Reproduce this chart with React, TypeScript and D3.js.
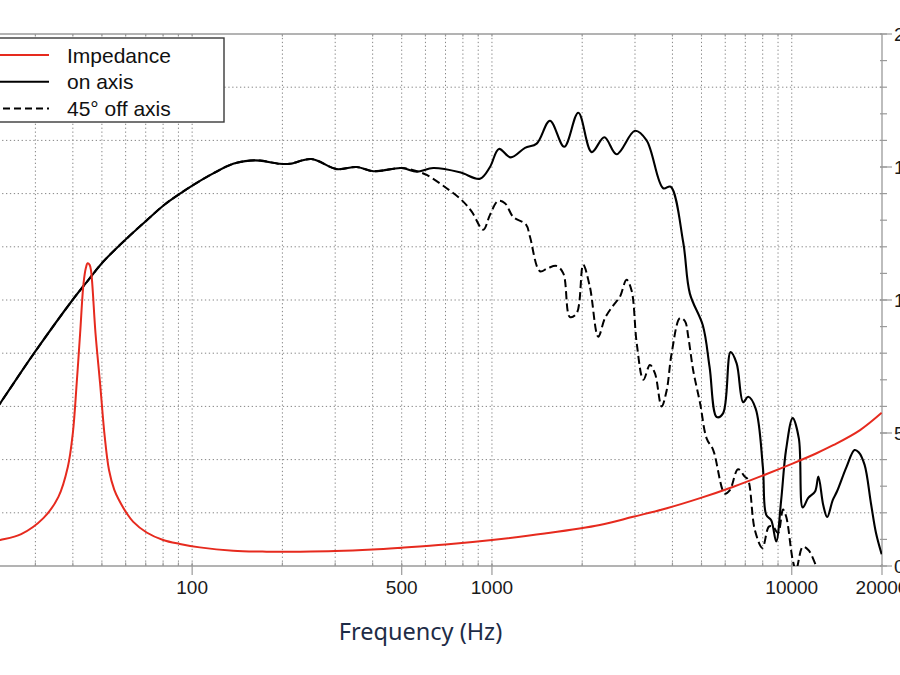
import React from 'react';
import * as d3 from 'd3';

// On-axis SPL response: [frequency Hz, dB]
const onAxis: [number, number][] = [
  [20, 62.9], [22.9, 65.3], [29.7, 70.0], [39.9, 75.0], [45.1, 76.9], [50.5, 78.6],
  [60.6, 80.8], [70.6, 82.5], [81.2, 84.0], [91.1, 85.0], [100.7, 85.8], [117.6, 86.9],
  [137, 87.8], [156, 88.1], [168.5, 88.1], [196, 87.8], [212, 87.8], [250, 88.25],
  [303.5, 87.3], [354, 87.5], [402, 87.1], [500, 87.4], [561, 87.05], [637, 87.4],
  [782, 87.0], [912, 86.4], [985, 87.5], [1055, 89.2], [1155, 88.4], [1289, 89.3],
  [1410, 89.7], [1561, 91.85], [1742, 89.4], [1941, 92.6], [2151, 88.9], [2371, 90.3],
  [2605, 88.7], [3000, 90.9], [3280, 90.0], [3725, 85.5], [3944, 85.65], [4346, 80.4],
  [4573, 75.6], [5053, 72.6], [5320, 68.7], [5620, 64.0], [5900, 64.35], [6250, 70.1],
  [6548, 69.05], [6886, 65.4], [7160, 65.9], [7578, 64.8], [8011, 59.3], [8220, 54.8],
  [8540, 54.3], [8875, 52.3], [9220, 56.2], [9570, 60.9], [10070, 63.9], [10560, 62.0],
  [10880, 55.5], [11350, 56.4], [11960, 57.0], [12270, 58.4], [12740, 55.7], [13130, 54.6],
  [13700, 56.2], [14150, 57.0], [15220, 59.3], [16200, 60.9], [16720, 60.7], [17500, 59.5],
  [18370, 55.9], [19100, 53.1], [19950, 51.1],
];

// 45° off-axis SPL response: [frequency Hz, dB]
const offAxis: [number, number][] = [
  [20, 62.9], [22.9, 65.3], [29.7, 70.0], [39.9, 75.0], [45.1, 76.9], [50.5, 78.6],
  [60.6, 80.8], [70.6, 82.5], [81.2, 84.0], [91.1, 85.0], [100.7, 85.8], [117.6, 86.9],
  [137, 87.8], [156, 88.1], [168.5, 88.1], [196, 87.8], [212, 87.8], [250, 88.25],
  [303.5, 87.3], [354, 87.5], [402, 87.1], [500, 87.4], [547, 87.2], [606, 86.75],
  [706, 85.5], [792, 84.4], [856, 83.3], [935, 81.6], [985, 83.0], [1047, 84.3],
  [1105, 84.1], [1178, 82.8], [1298, 82.1], [1339, 80.95], [1446, 77.7], [1537, 78.0],
  [1643, 78.2], [1730, 77.5], [1820, 73.4], [1917, 73.75], [2015, 78.3], [2121, 76.25],
  [2262, 71.55], [2383, 73.3], [2540, 74.5], [2672, 75.3], [2811, 76.9], [2922, 75.9],
  [3041, 70.9], [3200, 67.5], [3364, 68.9], [3498, 68.1], [3680, 65.0], [3826, 66.5],
  [3976, 70.0], [4240, 73.3], [4405, 73.0], [4516, 71.55], [4690, 68.4], [4946, 65.3],
  [5200, 62.0], [5470, 60.9], [5980, 56.8], [6210, 57.1], [6620, 59.1], [6970, 58.4],
  [7150, 58.1], [7530, 53.4], [7980, 51.7], [8390, 53.7], [8650, 53.7], [9000, 53.1],
  [9350, 55.3], [9590, 54.6], [10070, 50.6], [10330, 49.6], [10880, 51.8], [11360, 51.5],
  [11650, 51.0], [12120, 49.9], [12600, 49.2],
];

// Impedance magnitude: [frequency Hz, ohm]
const impedance: [number, number][] = [
  [20, 8.6], [22.9, 9.8], [26.9, 12.0], [31.9, 18.0], [35.8, 26], [38.5, 37.3],
  [40.0, 50], [41.2, 68.7], [42.3, 87.5], [43.4, 106], [44.2, 112], [44.8, 113.8],
  [45.5, 113.2], [46.0, 111], [47.6, 87.5], [49.3, 68.7], [51.1, 48.6], [52.8, 36.1],
  [55.0, 28.6], [57.0, 24.8], [60.5, 19.8], [63.5, 16.7], [70.5, 12.6], [80, 9.8],
  [91, 8.3], [106, 7.0], [137, 5.75], [177, 5.4], [229, 5.4], [300, 5.6], [400, 6.2],
  [500, 6.9], [700, 8.1], [1000, 9.8], [1500, 12.2], [2290, 15.4], [2958, 18.5],
  [3830, 21.7], [4946, 25.5], [6390, 29.8], [8250, 34.6], [10100, 38.6], [12100, 42.4],
  [13800, 45.5], [16900, 51.1], [19950, 57.6],
];

const freqTickValues = [20, 100, 500, 1000, 10000, 20000];
const freqLabelValues = [100, 500, 1000, 10000, 20000];
const impedanceMajorTicks = [0, 50, 100, 150, 200];
const legendItems = [
  { label: 'Impedance', color: '#e62a1e', dash: '' },
  { label: 'on axis', color: '#000', dash: '' },
  { label: '45° off axis', color: '#000', dash: '7,4' },
];

const W = 900;
const H = 675;
const plot = { left: -17.4, right: 882, top: 34, bottom: 566 };
const axisGrey = '#9a9a9a';
const gridGrey = '#858585';
const font = '"Liberation Sans", Arial, Helvetica, sans-serif';

export default function App() {
  const x = d3.scaleLog().domain([20, 20000]).range([plot.left, plot.right]);
  const yDb = d3.scaleLinear().domain([50, 100]).range([plot.bottom, plot.top]);
  const yZ = d3.scaleLinear().domain([0, 200]).range([plot.bottom, plot.top]);

  const curve = d3.curveCatmullRom.alpha(0.5);
  const lineDb = d3
    .line<[number, number]>()
    .x((d) => x(d[0]))
    .y((d) => yDb(d[1]))
    .curve(curve);
  const lineZ = d3
    .line<[number, number]>()
    .x((d) => x(d[0]))
    .y((d) => yZ(d[1]))
    .curve(curve);

  const vGrid = x.ticks().filter((f) => f > 20 && f < 20000);
  const hGrid = yDb.ticks(10).filter((v) => v > 50 && v < 100);
  const zMinor = yZ.ticks(20);

  return (
    <svg
      width={W}
      height={H}
      viewBox={`0 0 ${W} ${H}`}
      style={{ position: 'absolute', left: 0, top: 0, background: '#fff' }}
    >
      <defs>
        <clipPath id="plotClip">
          <rect
            x={plot.left}
            y={plot.top}
            width={plot.right - plot.left}
            height={plot.bottom - plot.top}
          />
        </clipPath>
      </defs>
      <rect width={W} height={H} fill="#fff" />

      {/* dotted grid */}
      <g stroke={gridGrey} strokeWidth={1} strokeDasharray="1.3,2.6">
        {vGrid.map((f) => (
          <line key={`v${f}`} x1={x(f)} x2={x(f)} y1={plot.top} y2={plot.bottom} />
        ))}
        {hGrid.map((v) => (
          <line key={`h${v}`} x1={plot.left} x2={plot.right} y1={yDb(v)} y2={yDb(v)} />
        ))}
      </g>

      {/* frame */}
      <g stroke={axisGrey} strokeWidth={1.3} fill="none">
        <line x1={plot.left} x2={plot.right} y1={plot.top} y2={plot.top} />
        <line x1={plot.left} x2={plot.right} y1={plot.bottom} y2={plot.bottom} />
        <line x1={plot.right} x2={plot.right} y1={plot.top} y2={plot.bottom} />
        <line x1={plot.left} x2={plot.left} y1={plot.top} y2={plot.bottom} />
      </g>

      {/* frequency axis ticks */}
      <g stroke={axisGrey} strokeWidth={1.2}>
        {vGrid.map((f) => (
          <g key={`mt${f}`}>
            <line x1={x(f)} x2={x(f)} y1={plot.bottom} y2={plot.bottom - 3.5} />
            <line x1={x(f)} x2={x(f)} y1={plot.top} y2={plot.top + 2.5} />
          </g>
        ))}
        {freqTickValues.map((f) => (
          <line key={`Mt${f}`} x1={x(f)} x2={x(f)} y1={plot.bottom - 2} y2={plot.bottom + 9} />
        ))}
      </g>
      <g fontFamily={font} fontSize={19} fill="#1a1a1a" textAnchor="middle">
        {freqLabelValues.map((f) => (
          <text key={`fl${f}`} x={x(f)} y={593.5}>
            {f}
          </text>
        ))}
      </g>

      {/* impedance axis ticks */}
      <g stroke={axisGrey} strokeWidth={1.2}>
        {zMinor.map((v) => (
          <line key={`zt${v}`} x1={plot.right - 2} x2={plot.right + 5} y1={yZ(v)} y2={yZ(v)} />
        ))}
        {impedanceMajorTicks.map((v) => (
          <line key={`zT${v}`} x1={plot.right - 2} x2={plot.right + 10} y1={yZ(v)} y2={yZ(v)} />
        ))}
      </g>
      <g fontFamily={font} fontSize={19} fill="#1a1a1a">
        {impedanceMajorTicks.map((v) => (
          <text key={`zl${v}`} x={894} y={yZ(v) + 7}>
            {v}
          </text>
        ))}
      </g>

      {/* curves */}
      <g clipPath="url(#plotClip)" fill="none" strokeLinejoin="round" strokeLinecap="butt">
        <path d={lineDb(offAxis) ?? ''} stroke="#000" strokeWidth={2} strokeDasharray="8,4" />
        <path d={lineDb(onAxis) ?? ''} stroke="#000" strokeWidth={2.1} />
        <path d={lineZ(impedance) ?? ''} stroke="#e62a1e" strokeWidth={2} />
      </g>

      {/* legend */}
      <g>
        <rect x={-10} y={38} width={234} height={84} fill="#fff" stroke="#3a3a3a" strokeWidth={1.4} />
        {legendItems.map((item, i) => {
          const ly = 55 + i * 26.8;
          return (
            <g key={item.label}>
              <line
                x1={-8}
                x2={49}
                y1={ly}
                y2={ly}
                stroke={item.color}
                strokeWidth={2}
                strokeDasharray={item.dash || undefined}
              />
              <text x={67} y={ly + 7.5} fontFamily={font} fontSize={21} fill="#111">
                {item.label}
              </text>
            </g>
          );
        })}
      </g>

      {/* axis title */}
      <text
        x={420.5}
        y={640}
        textAnchor="middle"
        fontFamily='"Noto Sans", "Open Sans", sans-serif'
        fontSize={23.5}
        fill="#1e2c46"
      >
        Frequency (Hz)
      </text>
    </svg>
  );
}
